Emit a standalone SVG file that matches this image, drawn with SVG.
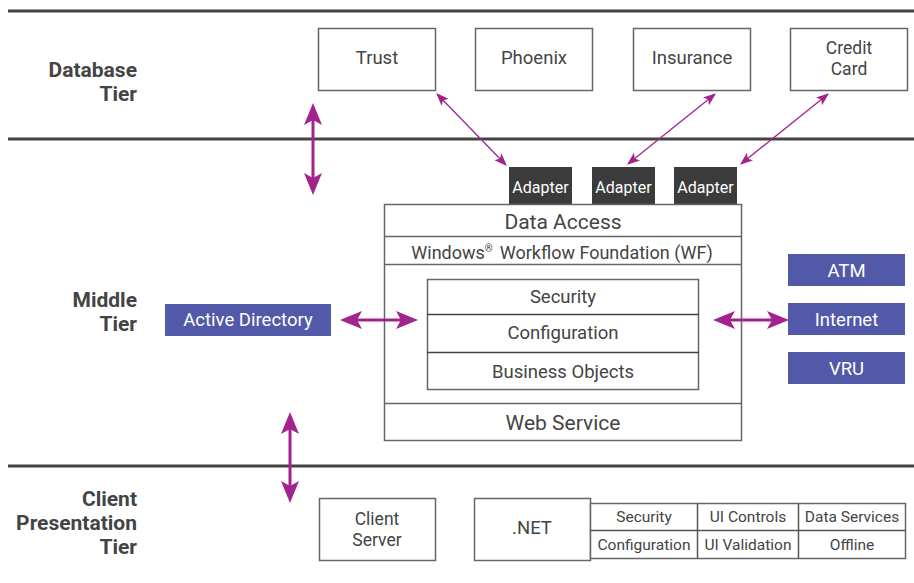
<svg xmlns="http://www.w3.org/2000/svg" width="914" height="583" viewBox="0 0 914 583">
<defs>
<style>
text{font-family:Roboto,"Liberation Sans",sans-serif;fill:#444}
.tier{font-weight:bold;font-size:21px;text-anchor:end;fill:#444}
.box{fill:#fff;stroke:#666;stroke-width:1.5}
.lbl{font-size:18.5px;text-anchor:middle}
.two{font-size:17.5px;text-anchor:middle}
.sep{stroke:#444;stroke-width:3}
.ad{fill:#3b3b3b}
.adt{fill:#fff;font-size:16px;text-anchor:middle}
.blue{fill:#5259a8}
.bt{fill:#fff;font-size:18.5px;text-anchor:middle}
.big{stroke:#a3238e;stroke-width:3;fill:none}
.thin{stroke:#a3238e;stroke-width:1.3;fill:none}
.cell{font-size:15.5px;text-anchor:middle}
</style>
<marker id="bh" viewBox="0 0 22 18" refX="17" refY="9" markerWidth="22" markerHeight="18" markerUnits="userSpaceOnUse" orient="auto-start-reverse">
<path d="M0,0 L22,9 L0,18 L5,9 z" fill="#a3238e"/>
</marker>
<marker id="sh" viewBox="0 0 13 10" refX="11" refY="5" markerWidth="13" markerHeight="10" markerUnits="userSpaceOnUse" orient="auto-start-reverse">
<path d="M0,0 L13,5 L0,10 L3,5 z" fill="#a3238e"/>
</marker>
</defs>
<rect width="914" height="583" fill="#fff"/>

<g id="tiers">
<line class="sep" x1="8" y1="11" x2="914" y2="11"/>
<line class="sep" x1="8" y1="139" x2="914" y2="139"/>
<line class="sep" x1="8" y1="466" x2="914" y2="466"/>
<text class="tier" x="137" y="77">Database<tspan x="137" dy="24">Tier</tspan></text>
<text class="tier" x="137" y="307">Middle<tspan x="137" dy="24">Tier</tspan></text>
<text class="tier" x="137" y="506">Client<tspan x="137" dy="24">Presentation</tspan><tspan x="137" dy="24">Tier</tspan></text>
</g>

<g id="trust"><rect class="box" x="318.5" y="28.5" width="117" height="62"/><text class="lbl" x="377" y="64">Trust</text></g>
<g id="phoenix"><rect class="box" x="475.5" y="28.5" width="117" height="62"/><text class="lbl" x="534" y="64">Phoenix</text></g>
<g id="insurance"><rect class="box" x="633.5" y="28.5" width="117" height="62"/><text class="lbl" x="692" y="64">Insurance</text></g>
<g id="creditcard"><rect class="box" x="790.5" y="28.5" width="117" height="62"/><text class="two" x="849" y="54">Credit<tspan x="849" dy="20.5">Card</tspan></text></g>

<g id="adapter1"><rect class="ad" x="509" y="167" width="63" height="37"/><text class="adt" x="540.5" y="193">Adapter</text></g>
<g id="adapter2"><rect class="ad" x="592" y="167" width="63" height="37"/><text class="adt" x="623.5" y="193">Adapter</text></g>
<g id="adapter3"><rect class="ad" x="674" y="167" width="63" height="37"/><text class="adt" x="705.5" y="193">Adapter</text></g>

<g id="core">
<rect class="box" x="384.5" y="204.5" width="357" height="236"/>
<line stroke="#666" stroke-width="1.5" x1="384" y1="236.5" x2="742" y2="236.5"/>
<line stroke="#666" stroke-width="1.5" x1="384" y1="264.5" x2="742" y2="264.5"/>
<line stroke="#666" stroke-width="1.5" x1="384" y1="403.5" x2="742" y2="403.5"/>
<text class="lbl" x="563" y="229" style="font-size:21px">Data Access</text>
<text class="lbl" x="562" y="259" style="font-size:18px">Windows<tspan font-size="10" dy="-7">®</tspan><tspan dx="7" dy="7">Workflow Foundation (WF)</tspan></text>
<text class="lbl" x="563" y="430" style="font-size:21px">Web Service</text>
</g>
<g id="inner">
<rect class="box" x="427.5" y="279.5" width="271" height="110"/>
<line stroke="#444" stroke-width="1.5" x1="427" y1="314.5" x2="699" y2="314.5"/>
<line stroke="#444" stroke-width="1.5" x1="427" y1="352.5" x2="699" y2="352.5"/>
<text class="lbl" x="563" y="303">Security</text>
<text class="lbl" x="563" y="339">Configuration</text>
<text class="lbl" x="563" y="378">Business Objects</text>
</g>

<g id="activedirectory"><rect class="blue" x="165" y="304" width="166" height="32"/><text class="bt" x="248" y="326">Active Directory</text></g>
<g id="atm"><rect class="blue" x="788" y="254" width="117" height="32"/><text class="bt" x="846.5" y="277">ATM</text></g>
<g id="internet"><rect class="blue" x="788" y="303" width="117" height="32"/><text class="bt" x="846.5" y="326">Internet</text></g>
<g id="vru"><rect class="blue" x="788" y="352" width="117" height="32"/><text class="bt" x="846.5" y="375">VRU</text></g>

<g id="clientserver"><rect class="box" x="319.5" y="498.5" width="116" height="62"/><text class="two" x="377" y="525">Client<tspan x="377" dy="20.5">Server</tspan></text></g>
<g id="dotnet"><rect class="box" x="474.5" y="498.5" width="116" height="62"/><text class="lbl" x="532" y="534">.NET</text></g>
<g id="nettable">
<rect class="box" x="590.5" y="503.5" width="315" height="55"/>
<line stroke="#555" stroke-width="1.5" x1="590" y1="530.5" x2="906" y2="530.5"/>
<line stroke="#555" stroke-width="1.5" x1="697.5" y1="503" x2="697.5" y2="559"/>
<line stroke="#555" stroke-width="1.5" x1="798.5" y1="503" x2="798.5" y2="559"/>
<text class="cell" x="644" y="522">Security</text>
<text class="cell" x="748" y="522">UI Controls</text>
<text class="cell" x="852" y="522">Data Services</text>
<text class="cell" x="644" y="550">Configuration</text>
<text class="cell" x="748" y="550">UI Validation</text>
<text class="cell" x="852" y="550">Offline</text>
</g>

<g id="connectors">
<line class="big" x1="313" y1="108" x2="313" y2="190" marker-start="url(#bh)" marker-end="url(#bh)"/>
<line class="big" x1="290" y1="417" x2="290" y2="498" marker-start="url(#bh)" marker-end="url(#bh)"/>
<line class="big" x1="345" y1="320" x2="413" y2="320" marker-start="url(#bh)" marker-end="url(#bh)"/>
<line class="big" x1="718" y1="320" x2="784" y2="320" marker-start="url(#bh)" marker-end="url(#bh)"/>
<line class="thin" x1="437.5" y1="94.5" x2="505.5" y2="164.5" marker-start="url(#sh)" marker-end="url(#sh)"/>
<line class="thin" x1="714.5" y1="94.5" x2="628.5" y2="163.5" marker-start="url(#sh)" marker-end="url(#sh)"/>
<line class="thin" x1="827.5" y1="94.5" x2="741.5" y2="163.5" marker-start="url(#sh)" marker-end="url(#sh)"/>
</g>
</svg>
